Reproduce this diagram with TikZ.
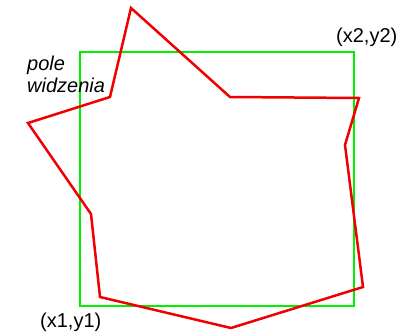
\documentclass[tikz,border=0pt]{standalone}
\usepackage{fontspec}
\setmainfont{Liberation Sans}
\usepackage{tikz}
\usetikzlibrary{positioning}
\definecolor{ViewGreen}{RGB}{0, 240, 0}
\definecolor{ShapeRed}{RGB}{240, 0, 0}
\tikzset{
  viewbox/.style={draw=ViewGreen, line width=2.8pt},
  outline/.style={draw=ShapeRed, line width=2.5pt, line join=miter},
  lbl/.style={inner sep=0pt, font=\fontsize{20}{22}\selectfont},
}

\begin{document}
\begin{tikzpicture}[x=1pt, y=-1pt]
  \useasboundingbox (0,0) rectangle (401,335);
  % field of view
  \coordinate (p1) at (80,306);
  \coordinate (p2) at (354,52);
  \draw[viewbox] (p1) rectangle (p2);
  % clipped shape
  \draw[outline] (131,8) -- (230,97) -- (359,98) -- (345,145) -- (363,287)
    -- (231,328) -- (100,297) -- (91,214) -- (28,123) -- (110,97) -- cycle;
  \node[lbl, anchor=base west, align=left, font=\fontsize{20}{22}\selectfont\itshape]
    (pole) at (27,92) {pole\\widzenia};
  \node[lbl, anchor=base west] (p2lbl) at (336,42) {(x2,y2)};
  \node[lbl, anchor=base west] (p1lbl) at (40,327) {(x1,y1)};
\end{tikzpicture}
\end{document}
